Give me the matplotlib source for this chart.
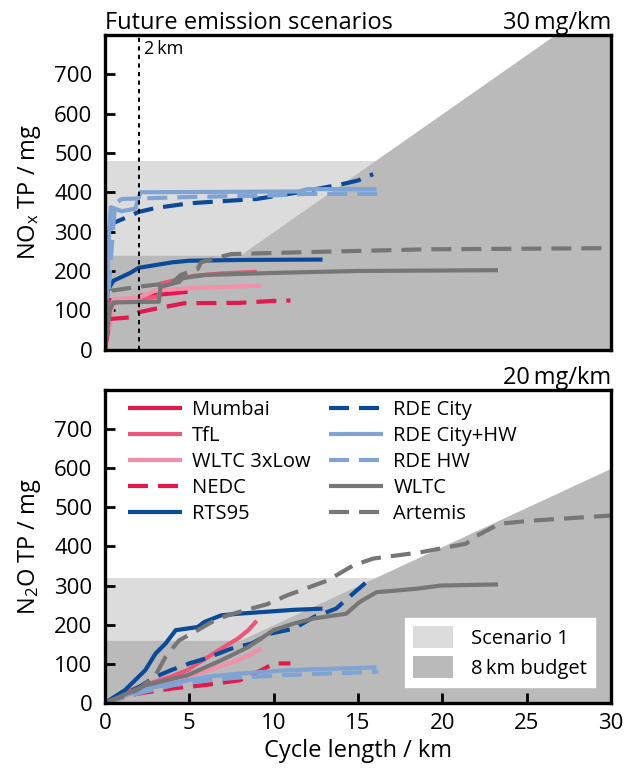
import matplotlib
matplotlib.use("Agg")
import matplotlib.pyplot as plt
from matplotlib.patches import Patch

plt.rcParams['font.family'] = ['Open Sans', 'DejaVu Sans']
plt.rcParams['mathtext.default'] = 'regular'

# Budget settings
nox_rate = 30      # mg/km
n2o_rate = 20      # mg/km
budget_km = 8      # km
x_max = 30

# Cycle names
cycles = ["Mumbai", "TfL", "WLTC 3xLow", "NEDC", "RTS95",
          "RDE City", "RDE City+HW", "RDE HW", "WLTC", "Artemis"]

# NOx cumulative tailpipe (top panel)
mumbai_x_nox = [0, 0.1, 0.3, 2.0, 2.1, 3.5, 4.9]
mumbai_nox = [0, 118, 126, 128, 137, 141, 147]
tfl_x_nox = [0, 0.1, 1.0, 3.2, 3.3, 5.3, 7.0, 9.0]
tfl_nox = [0, 110, 125, 135, 168, 188, 194, 198]
wltc3_x_nox = [0, 0.3, 0.5, 2.0, 3.0, 5.0, 9.3]
wltc3_nox = [0, 60, 128, 132, 150, 156, 163]
nedc_x_nox = [0, 0.3, 1.5, 2.0, 3.0, 4.7, 8.0, 10.0, 11.0]
nedc_nox = [0, 78, 82, 95, 104, 118, 119, 124, 125]
rts_x_nox = [0, 0.15, 0.5, 1.5, 2.0, 4.0, 5.0, 8.0, 12.9]
rts_nox = [0, 150, 175, 195, 208, 222, 226, 228, 229]
rdec_x_nox = [0, 0.3, 0.5, 1.5, 2.0, 3.0, 5.0, 9.0, 11.5, 14.0, 15.0, 15.9]
rdec_nox = [0, 300, 322, 340, 350, 360, 372, 383, 400, 420, 430, 446]
rdech_x_nox = [0, 0.25, 0.35, 1.0, 1.8, 2.1, 11.5, 12.0, 16.1]
rdech_nox = [0, 300, 362, 352, 358, 400, 402, 408, 408]
rdeh_x_nox = [0, 0.3, 0.6, 1.0, 5.0, 10.0, 12.0, 16.2]
rdeh_nox = [0, 200, 370, 383, 388, 392, 396, 396]
wltc_x_nox = [0, 0.3, 0.5, 3.2, 3.3, 4.4, 4.6, 6.0, 10.0, 15.0, 23.3]
wltc_nox = [0, 100, 120, 122, 160, 172, 182, 190, 195, 200, 202]
art_x_nox = [0, 0.2, 0.4, 2.0, 4.0, 4.5, 5.5, 5.7, 6.5, 7.5, 13.0, 19.0, 30.0]
art_nox = [0, 140, 150, 160, 170, 190, 205, 222, 232, 243, 249, 255, 258]

# N2O cumulative tailpipe (bottom panel)
mumbai_x_n2o = [0, 0.8, 2.0, 3.9, 5.0]
mumbai_n2o = [0, 16, 33, 50, 60]
tfl_x_n2o = [0, 1.0, 2.0, 3.9, 4.9, 6.9, 7.9, 8.5, 9.0]
tfl_n2o = [0, 22, 41, 67, 84, 139, 165, 186, 210]
wltc3_x_n2o = [0, 1.0, 2.0, 3.0, 5.0, 5.9, 7.9, 9.3]
wltc3_n2o = [0, 15, 30, 45, 70, 80, 109, 139]
nedc_x_n2o = [0, 1.0, 2.0, 4.0, 6.0, 8.0, 9.3, 10.0, 11.0]
nedc_n2o = [0, 15, 24, 37, 46, 58, 84, 101, 101]
rts_x_n2o = [0, 1.2, 2.4, 3.0, 3.6, 4.2, 5.5, 5.9, 6.9, 7.9, 11.2, 12.9]
rts_n2o = [0, 33, 84, 126, 152, 186, 194, 207, 224, 228, 238, 241]
rdec_x_n2o = [0, 1.0, 2.0, 3.0, 4.0, 5.0, 6.0, 7.5, 8.7, 9.8, 11.2, 12.4,
              13.7, 14.7, 15.5, 15.9]
rdec_n2o = [0, 20, 40, 67, 85, 101, 114, 139, 152, 177, 190, 220,
            241, 279, 309, 322]
rdech_x_n2o = [0, 1.0, 2.0, 4.0, 6.0, 8.0, 11.0, 14.0, 16.1]
rdech_n2o = [0, 15, 33, 50, 67, 75, 84, 88, 91]
rdeh_x_n2o = [0, 1.0, 2.0, 4.0, 6.0, 8.0, 11.0, 14.0, 16.2]
rdeh_n2o = [0, 12, 25, 45, 58, 65, 72, 76, 80]
wltc_x_n2o = [0, 1.0, 2.4, 4.9, 6.9, 8.5, 9.4, 10.0, 11.2, 12.4, 14.3,
              15.1, 16.1, 18.5, 19.9, 23.3]
wltc_n2o = [0, 18, 45, 71, 109, 143, 169, 186, 203, 216, 228,
            258, 283, 292, 300, 303]
art_x_n2o = [0, 1.0, 2.0, 3.0, 3.6, 4.4, 5.5, 6.5, 7.3, 8.3, 9.6, 10.8,
             13.2, 14.7, 15.9, 18.7, 21.4, 21.9, 23.4, 25.3, 30.0]
art_n2o = [0, 15, 35, 71, 118, 160, 186, 211, 224, 237, 252, 275,
           313, 351, 369, 385, 407, 424, 458, 466, 479]

nox_x = [mumbai_x_nox, tfl_x_nox, wltc3_x_nox, nedc_x_nox, rts_x_nox,
         rdec_x_nox, rdech_x_nox, rdeh_x_nox, wltc_x_nox, art_x_nox]
nox_y = [mumbai_nox, tfl_nox, wltc3_nox, nedc_nox, rts_nox,
         rdec_nox, rdech_nox, rdeh_nox, wltc_nox, art_nox]
n2o_x = [mumbai_x_n2o, tfl_x_n2o, wltc3_x_n2o, nedc_x_n2o, rts_x_n2o,
         rdec_x_n2o, rdech_x_n2o, rdeh_x_n2o, wltc_x_n2o, art_x_n2o]
n2o_y = [mumbai_n2o, tfl_n2o, wltc3_n2o, nedc_n2o, rts_n2o,
         rdec_n2o, rdech_n2o, rdeh_n2o, wltc_n2o, art_n2o]

crimson = "#e2194f"
red = "#ec5779"
pink = "#f28fa9"
dblue = "#0b4a98"
lblue = "#7fa3d3"
grey = "#767676"
colors = [crimson, red, pink, crimson, dblue, dblue, lblue, lblue, grey, grey]
dashed = [False, False, False, True, False, True, False, True, False, True]

light = "#dcdcdc"
dark = "#bababa"

fig = plt.figure(figsize=(6.28, 7.84), dpi=100)
ax1 = fig.add_axes([0.167, 0.554, 0.806, 0.4015])
ax2 = fig.add_axes([0.167, 0.1034, 0.806, 0.3992])


def shade(ax, rate):
    # scenario 1 = twice the 8 km budget, dark = max(budget, rate*x)
    s1 = 2 * rate * budget_km
    ax.fill_between([0, s1 / rate], [s1, s1], 0, color=light, lw=0, zorder=0)
    ax.fill_between([0, budget_km, x_max],
                    [rate * budget_km, rate * budget_km, rate * x_max],
                    0, color=dark, lw=0, zorder=1)


def curves(ax, xs, ys):
    for x, y, c, d, name in zip(xs, ys, colors, dashed, cycles):
        ls = (0, (4.8, 2.4)) if d else '-'
        ax.plot(x, y, color=c, lw=3.0, ls=ls, label=name, zorder=3,
                solid_capstyle='butt', dash_capstyle='butt')


shade(ax1, nox_rate)
shade(ax2, n2o_rate)
curves(ax1, nox_x, nox_y)
curves(ax2, n2o_x, n2o_y)

ax1.axvline(2, color='k', lw=1.4, ls=(0, (2.2, 2.2)), zorder=4)
ax1.text(2.3, 787, "2\u2009km", fontsize=13, va='top', ha='left')

for ax in (ax1, ax2):
    ax.set_xlim(0, x_max)
    ax.set_ylim(0, 800)
    ax.set_yticks(range(0, 800, 100))
    ax.tick_params(direction='in', length=7, width=2, labelsize=16, pad=9)
    for sp in ax.spines.values():
        sp.set_linewidth(2.4)
        sp.set_zorder(5)

ax1.set_xticks([])
ax2.set_xticks(range(0, 35, 5))
ax2.tick_params(axis='x', pad=7)

ax1.set_ylabel("NO$_x$ TP / mg", fontsize=17, labelpad=8)
ax2.set_ylabel("N$_2$O TP / mg", fontsize=17, labelpad=8)
ax2.set_xlabel("Cycle length / km", fontsize=17, labelpad=4)

ax1.set_title("Future emission scenarios", loc='left', fontsize=17, pad=3)
ax1.set_title("30\u2009mg/km", loc='right', fontsize=17, pad=3)
ax2.set_title("20\u2009mg/km", loc='right', fontsize=17, pad=3)

leg = ax2.legend(ncol=2, loc='upper left', frameon=False, fontsize=14.5,
                 handlelength=2.7, handletextpad=0.5, columnspacing=0.9,
                 labelspacing=0.3, borderaxespad=0.1,
                 bbox_to_anchor=(0.025, 1.0))
ax2.add_artist(leg)

patches = [Patch(facecolor=light, label="Scenario 1"),
           Patch(facecolor=dark, label="8\u2009km budget")]
leg2 = ax2.legend(handles=patches, loc='lower right', fontsize=14.5,
                  fancybox=False, framealpha=1, edgecolor='white',
                  handlelength=2.0, handleheight=1.3, handletextpad=0.9,
                  borderaxespad=0.8, labelspacing=0.35)
leg2.set_zorder(6)

fig.savefig("out.png", dpi=100)
